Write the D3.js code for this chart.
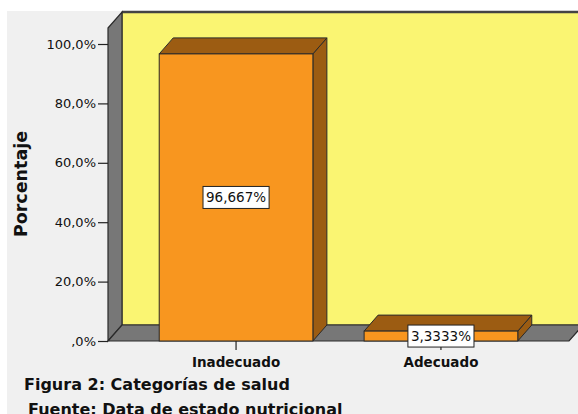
<!DOCTYPE html>
<html>
<head>
<meta charset="utf-8">
<script src="https://cdn.jsdelivr.net/npm/d3@7"></script>
<style>
  html, body { margin: 0; padding: 0; background: #ffffff; }
  svg { display: block; }
  text { font-family: "DejaVu Sans", sans-serif; fill: #111; }
</style>
</head>
<body>
<script>
// Categorías de salud – porcentaje por categoría
const categories = ["Inadecuado", "Adecuado"];
const percentages = [96.667, 3.3333];
const valueLabels = ["96,667%", "3,3333%"];
const yTicks = [0, 20, 40, 60, 80, 100];
const yTickLabels = [",0%", "20,0%", "40,0%", "60,0%", "80,0%", "100,0%"];

const W = 578, H = 414;
const plotLeft = 108, plotRight = 569, plotBottom = 341, plotTop = 44;
const dx = 14, dy = 16;          // depth offset of the 3D walls and bars

const svg = d3.select("body").append("svg").attr("width", W).attr("height", H);

// panel background
svg.append("rect").attr("x", 7).attr("y", 11).attr("width", W - 7).attr("height", H - 11)
  .attr("fill", "#f0f0f0");

const x = d3.scaleBand().domain(categories).range([plotLeft, plotRight])
  .paddingInner(0.25).paddingOuter(0.25);
const y = d3.scaleLinear().domain([0, 100]).range([plotBottom, plotTop]);

const wallTop = 12;
const line = "#2a2a2a";

// back wall
svg.append("rect").attr("x", plotLeft + dx).attr("y", wallTop)
  .attr("width", W - plotLeft - dx + 5).attr("height", plotBottom - dy - wallTop)
  .attr("fill", "#faf572").attr("stroke", line).attr("stroke-width", 1);
svg.append("line").attr("x1", plotLeft + dx).attr("x2", W).attr("y1", wallTop).attr("y2", wallTop)
  .attr("stroke", "#444").attr("stroke-width", 2.5);

// left wall
svg.append("polygon")
  .attr("points", [[plotLeft, wallTop + dy], [plotLeft + dx, wallTop], [plotLeft + dx, plotBottom - dy], [plotLeft, plotBottom]].join(" "))
  .attr("fill", "#777777").attr("stroke", line).attr("stroke-width", 1.2);

// floor
svg.append("polygon")
  .attr("points", [[plotLeft, plotBottom], [plotLeft + dx, plotBottom - dy], [plotRight + dx, plotBottom - dy], [plotRight, plotBottom]].join(" "))
  .attr("fill", "#777777").attr("stroke", line).attr("stroke-width", 1.2);

// bars
const bars = svg.append("g");
categories.forEach((c, i) => {
  const x0 = x(c), x1 = x(c) + x.bandwidth();
  const yt = y(percentages[i]), yb = y(0);
  const g = bars.append("g");
  g.append("polygon") // side face
    .attr("points", [[x1, yt], [x1 + dx, yt - dy], [x1 + dx, yb - dy], [x1, yb]].join(" "))
    .attr("fill", "#9c5c12").attr("stroke", line).attr("stroke-width", 1);
  g.append("polygon") // top face
    .attr("points", [[x0, yt], [x0 + dx, yt - dy], [x1 + dx, yt - dy], [x1, yt]].join(" "))
    .attr("fill", "#9c5c12").attr("stroke", line).attr("stroke-width", 1);
  g.append("rect") // front face
    .attr("x", x0).attr("y", yt).attr("width", x.bandwidth()).attr("height", yb - yt)
    .attr("fill", "#f8961f").attr("stroke", line).attr("stroke-width", 1);
});

// y axis
const yAxis = svg.append("g").attr("transform", `translate(${plotLeft},0)`)
  .call(d3.axisLeft(y).tickValues(yTicks).tickSize(10).tickPadding(2)
    .tickFormat((d, i) => yTickLabels[i]));
yAxis.select(".domain").remove();
yAxis.selectAll(".tick line").attr("stroke", "#222").attr("stroke-width", 1.2);
yAxis.selectAll(".tick text").attr("font-family", "DejaVu Sans, sans-serif")
  .attr("font-size", 13).attr("fill", "#222");

// x axis
const xAxis = svg.append("g").attr("transform", `translate(0,${plotBottom})`)
  .call(d3.axisBottom(x).tickSize(9).tickPadding(7));
xAxis.select(".domain").remove();
xAxis.selectAll(".tick line").attr("stroke", "#222").attr("stroke-width", 1.2);
xAxis.selectAll(".tick text").attr("font-family", "DejaVu Sans, sans-serif")
  .attr("font-size", 13.5).attr("font-weight", "bold").attr("fill", "#111");

// value labels centred on the front face of each bar
categories.forEach((c, i) => {
  const cx = x(c) + x.bandwidth() / 2;
  const cy = (y(percentages[i]) + y(0)) / 2;
  const g = svg.append("g");
  const t = g.append("text").attr("x", cx).attr("y", cy).attr("text-anchor", "middle")
    .attr("dy", "0.36em").attr("font-size", 13.5).attr("fill", "#111").text(valueLabels[i]);
  const w = t.node().getComputedTextLength();
  g.insert("rect", "text").attr("x", cx - w / 2 - 3).attr("y", cy - 11)
    .attr("width", w + 6).attr("height", 22)
    .attr("fill", "#ffffff").attr("stroke", "#222").attr("stroke-width", 1);
});

// axis title
svg.append("text").attr("transform", "translate(27,184) rotate(-90)")
  .attr("text-anchor", "middle").attr("font-size", 17.5).attr("font-weight", "bold")
  .text("Porcentaje");

// caption
svg.append("text").attr("x", 24).attr("y", 390).attr("font-size", 16).attr("font-weight", "bold")
  .text("Figura 2: Categorías de salud");
svg.append("text").attr("x", 28).attr("y", 415).attr("font-size", 16).attr("font-weight", "bold")
  .text("Fuente: Data de estado nutricional");
</script>
</body>
</html>
